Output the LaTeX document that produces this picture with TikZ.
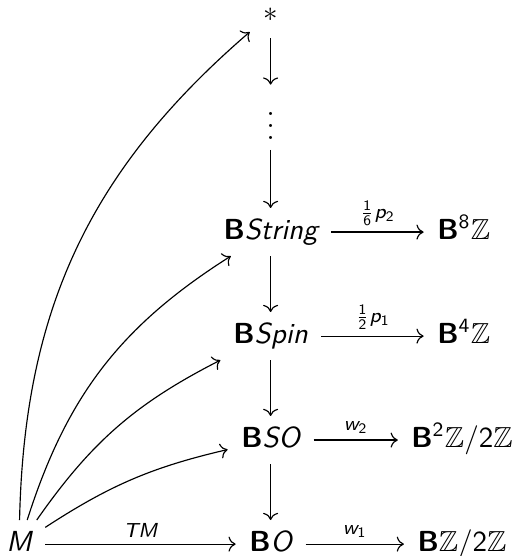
\documentclass[tikz,border=0pt]{standalone}
\usepackage{amssymb}
\SetSymbolFont{operators}{normal}{TU}{lmss}{m}{n}
\SetSymbolFont{letters}{normal}{TU}{lmss}{m}{sl}
\SetMathAlphabet{\mathbf}{normal}{TU}{lmss}{bx}{n}
\DeclareMathSymbol{/}{\mathord}{operators}{`/}
\usetikzlibrary{arrows.meta}

\begin{document}
\begin{tikzpicture}[
  cell/.style={inner xsep=4.5pt, inner ysep=3.5pt},
  obj/.style={cell, anchor=base, text height=7pt, text depth=2.2pt},
  lbl/.style={font=\scriptsize, inner sep=2pt}
]
\useasboundingbox (0,0) rectangle (6.339,-6.739);

\node[obj] (star) at (3.28,-0.255) {$\ast$};
\node[cell, anchor=base] (dots) at (3.28,-1.685) {$\vdots$};
\node[obj] (bstring) at (3.28,-2.897) {$\mathbf{B}String$};
\node[obj] (bspin) at (3.28,-4.158) {$\mathbf{B}Spin$};
\node[obj] (bso) at (3.28,-5.418) {$\mathbf{B}SO$};
\node[obj] (bo) at (3.28,-6.679) {$\mathbf{B}O$};
\node[obj] (m) at (0.23,-6.679) {$M$};
\node[obj] (beight) at (5.62,-2.897) {$\mathbf{B}^8\mathbb{Z}$};
\node[obj] (bfour) at (5.62,-4.158) {$\mathbf{B}^4\mathbb{Z}$};
\node[obj] (btwo) at (5.60,-5.418) {$\mathbf{B}^2\mathbb{Z}/2\mathbb{Z}$};
\node[obj] (bone) at (5.60,-6.679) {$\mathbf{B}\mathbb{Z}/2\mathbb{Z}$};

% tower
\draw[->] (star) -- (dots);
\draw[->] (dots) -- (bstring);
\draw[->] (bstring) -- (bspin);
\draw[->] (bspin) -- (bso);
\draw[->] (bso) -- (bo);

% characteristic classes
\draw[->] (bstring) -- node[lbl, above]{$\frac{1}{6}p_2$} (beight);
\draw[->] (bspin) -- node[lbl, above]{$\frac{1}{2}p_1$} (bfour);
\draw[->] (bso) -- node[lbl, above]{$w_2$} (btwo);
\draw[->] (bo) -- node[lbl, above]{$w_1$} (bone);

% lifts of M
\draw[->] (m) -- node[lbl, above]{$TM$} (bo);
\draw[->] (m) to[bend left=10] (bso);
\draw[->] (m) to[bend left=14] (bspin);
\draw[->] (m) to[bend left=20] (bstring);
\draw[->] (m) to[bend left=24] (star);

\end{tikzpicture}
\end{document}
